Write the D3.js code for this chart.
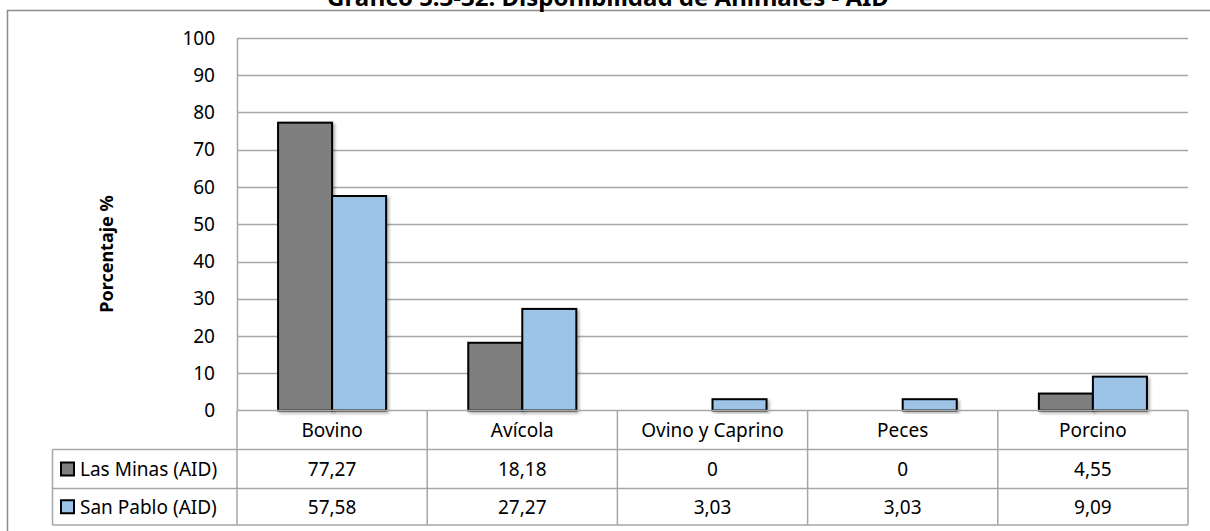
<!DOCTYPE html>
<html><head><meta charset="utf-8">
<script src="https://cdn.jsdelivr.net/npm/d3@7"></script>
<style>body{margin:0;background:#fff;} svg{display:block;}</style>
</head><body>
<script>
const categories = ["Bovino","Avícola","Ovino y Caprino","Peces","Porcino"];
const seriesNames = ["Las Minas (AID)","San Pablo (AID)"];
const lasMinas = [77.27,18.18,0,0,4.55];
const sanPablo = [57.58,27.27,3.03,3.03,9.09];
const lasMinasLabels = ["77,27","18,18","0","0","4,55"];
const sanPabloLabels = ["57,58","27,27","3,03","3,03","9,09"];
const yTicks = [0,10,20,30,40,50,60,70,80,90,100];
const title = "Gráfico 5.3-32. Disponibilidad de Animales - AID";
const colors = ["#7f7f7f","#9dc3e6"];

const W=1210,H=531;
const svg=d3.select("body").append("svg").attr("width",W).attr("height",H);
const font="'Noto Sans', sans-serif";

const defs=svg.append("defs");
const f=defs.append("filter").attr("id","sh").attr("x","-20%").attr("y","-20%").attr("width","150%").attr("height","150%");
f.append("feDropShadow").attr("dx",2).attr("dy",2).attr("stdDeviation",1.8).attr("flood-color","#000").attr("flood-opacity",0.3);

// outer frame
svg.append("rect").attr("x",7.5).attr("y",10.5).attr("width",1220).attr("height",540)
  .attr("fill","none").attr("stroke","#8c8c8c").attr("stroke-width",1.5);

// title (partially cut off at top, as in the reference)
svg.append("text").attr("x",608).attr("y",6).attr("text-anchor","middle")
  .attr("font-family",font).attr("font-weight","bold").attr("font-size",24).text(title);

const x0=237,x1=1188;
const x=d3.scaleBand().domain(categories).range([x0,x1]).paddingInner(0).paddingOuter(0);
const xs=d3.scaleBand().domain(seriesNames).range([0,x.bandwidth()]).paddingInner(0).paddingOuter(0.76);
const y=d3.scaleLinear().domain([0,100]).range([410.5,38]);

// gridlines
svg.append("g").selectAll("line").data(yTicks.filter(d=>d>0)).join("line")
  .attr("x1",x0).attr("x2",x1).attr("y1",d=>Math.round(y(d))+0.5).attr("y2",d=>Math.round(y(d))+0.5)
  .attr("stroke","#a6a6a6").attr("stroke-width",1.5);

// y axis
const yAxis=d3.axisLeft(y).tickValues(yTicks).tickSize(0).tickPadding(22);
const ga=svg.append("g").attr("transform",`translate(${x0},0)`).call(yAxis);
ga.select(".domain").attr("stroke","#a6a6a6").attr("stroke-width",1.5);
ga.selectAll("text").attr("font-family",font).attr("font-size",19).attr("fill","#000");

// y label
svg.append("text").attr("transform","translate(113,254) rotate(-90)").attr("text-anchor","middle")
  .attr("font-family",font).attr("font-weight","bold").attr("font-size",18).text("Porcentaje %");

// bars
const series=[lasMinas,sanPablo];
const bars=[];
series.forEach((vals,si)=>vals.forEach((v,ci)=>{ if(v>0) bars.push({s:si,c:ci,v}); }));
svg.append("g").selectAll("rect").data(bars).join("rect")
  .attr("x",d=>x(categories[d.c])+xs(seriesNames[d.s]))
  .attr("width",xs.bandwidth())
  .attr("y",d=>y(d.v))
  .attr("height",d=>y(0)-y(d.v))
  .attr("fill",d=>colors[d.s]).attr("stroke","#000").attr("stroke-width",2)
  .attr("filter","url(#sh)");

// data table
const rowY=[410.5,449.5,488.5,525];
const legL=52.5;
const g=svg.append("g").attr("stroke","#a6a6a6").attr("stroke-width",1.5);
g.append("line").attr("x1",x0).attr("x2",x1).attr("y1",rowY[0]).attr("y2",rowY[0]);
[1,2,3].forEach(i=>g.append("line").attr("x1",legL).attr("x2",x1).attr("y1",rowY[i]).attr("y2",rowY[i]));
const vx=categories.map(c=>x(c)).concat([x1]);
vx.forEach(v=>g.append("line").attr("x1",v).attr("x2",v).attr("y1",rowY[0]).attr("y2",rowY[3]));
g.append("line").attr("x1",legL).attr("x2",legL).attr("y1",rowY[1]).attr("y2",rowY[3]);

const cx=c=>x(c)+x.bandwidth()/2;
const fs=19;
svg.append("g").selectAll("text").data(categories).join("text")
  .attr("x",cx).attr("y",(rowY[0]+rowY[1])/2+7).attr("text-anchor","middle")
  .attr("font-family",font).attr("font-size",fs).text(d=>d);
const labels=[lasMinasLabels,sanPabloLabels];
labels.forEach((arr,si)=>{
  const cy=(rowY[si+1]+rowY[si+2])/2;
  svg.append("g").selectAll("text").data(arr).join("text")
    .attr("x",(d,i)=>cx(categories[i])).attr("y",cy+7).attr("text-anchor","middle")
    .attr("font-family",font).attr("font-size",fs).text(d=>d);
  svg.append("rect").attr("x",61).attr("y",cy-6.5).attr("width",13).attr("height",13)
    .attr("fill",colors[si]).attr("stroke","#000").attr("stroke-width",2);
  svg.append("text").attr("x",80).attr("y",cy+7).attr("font-family",font).attr("font-size",fs).text(seriesNames[si]);
});
</script>
</body></html>
